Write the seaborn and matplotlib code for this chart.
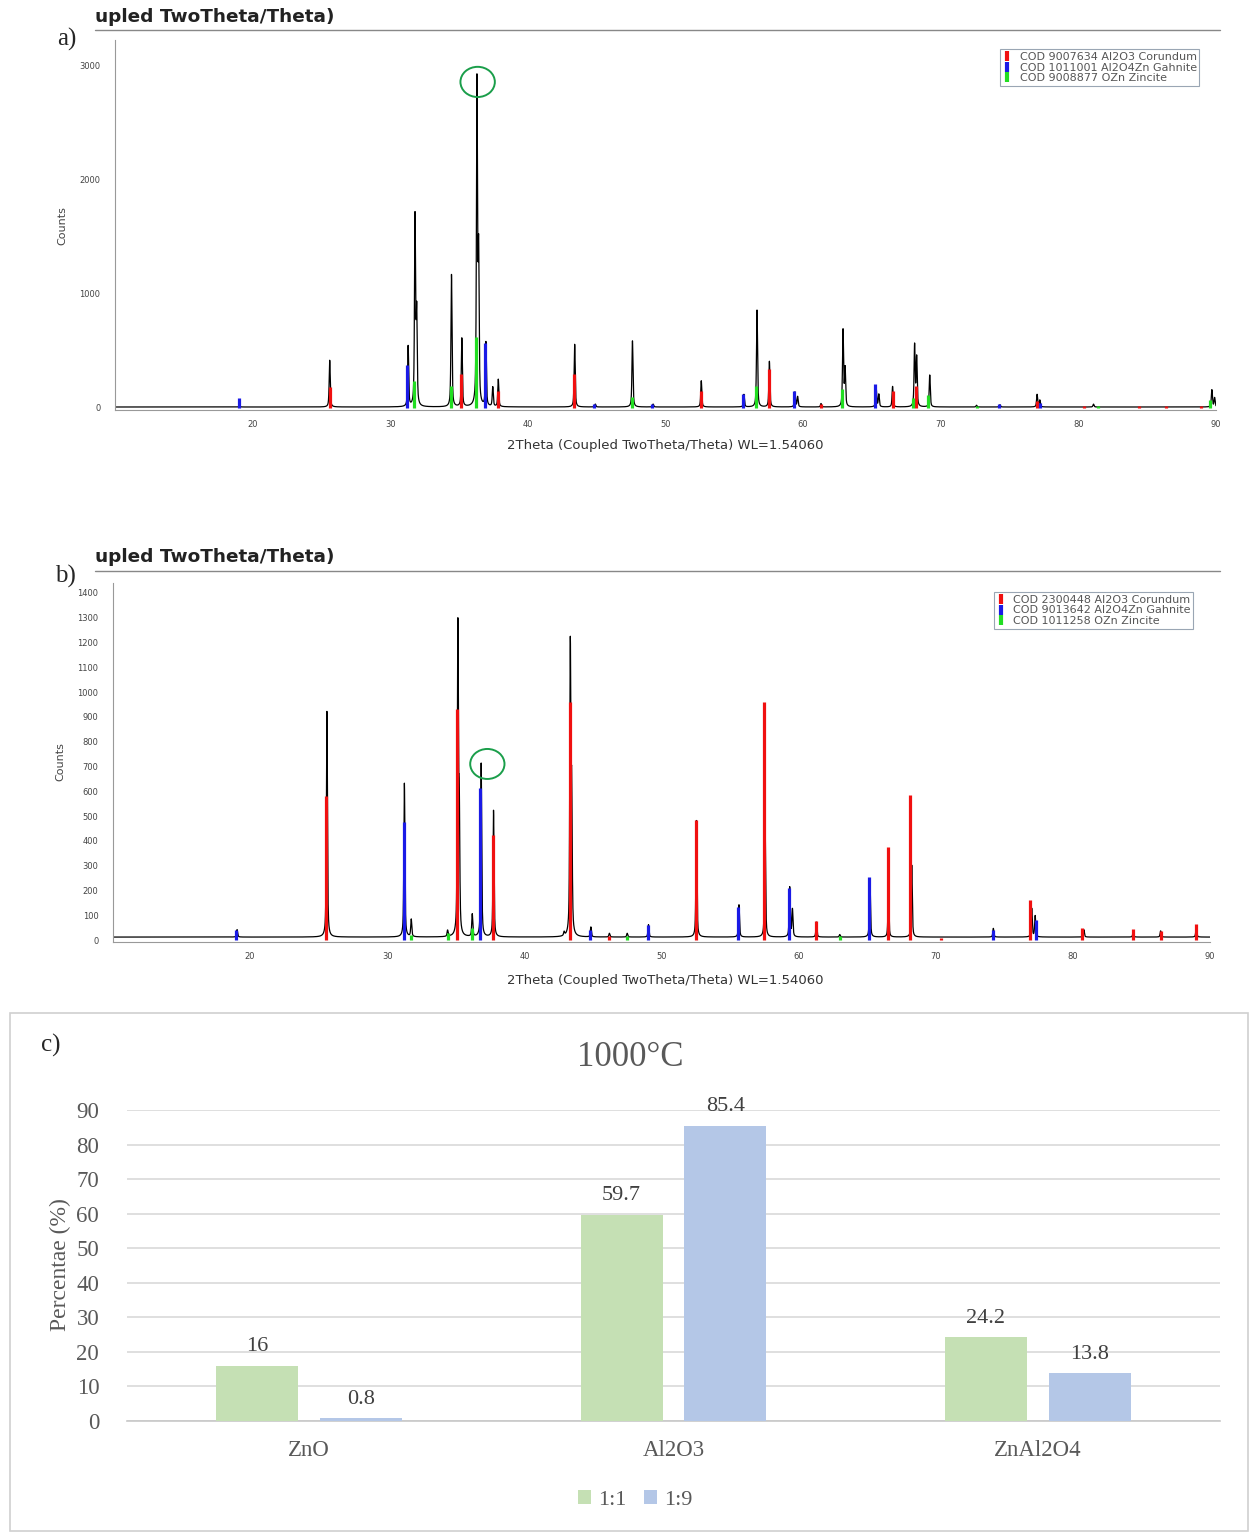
import numpy as np
import pandas as pd
import matplotlib
matplotlib.use("Agg")
import matplotlib.pyplot as plt
from matplotlib.lines import Line2D
from matplotlib.patches import Ellipse, Rectangle
from matplotlib.ticker import MultipleLocator
import seaborn as sns

sns.set_theme(style="white")
plt.rcParams['font.family'] = ['DejaVu Sans']

# ====================== data: XRD a) ======================
a_peak_pos = [19.05, 25.6, 31.3, 31.8, 31.92, 34.45, 35.2, 36.3, 36.42, 36.95, 37.45, 37.85,
              43.4, 44.9, 47.6, 49.1, 52.6, 55.7, 56.65, 57.55, 59.4, 59.6, 61.3, 62.9, 63.05,
              65.3, 65.5, 66.5, 68.1, 68.25, 69.2, 72.6, 74.3, 77.0, 77.2, 81.1, 89.7, 89.9]
a_peak_hgt = [15, 410, 530, 1650, 800, 1160, 600, 2820, 1300, 560, 170, 240,
              550, 25, 580, 25, 230, 110, 850, 400, 130, 90, 30, 670, 330,
              180, 110, 180, 540, 430, 280, 15, 20, 110, 60, 25, 150, 80]
a_red_pos = [25.6, 35.15, 37.8, 43.35, 52.55, 57.5, 61.3, 66.5, 68.2, 77.0, 80.4, 84.4, 86.4, 88.9]
a_red_hgt = [180, 300, 150, 300, 150, 340, 30, 150, 190, 60, 20, 20, 20, 20]
a_blue_pos = [19.0, 31.25, 36.85, 44.8, 49.0, 55.65, 59.35, 65.2, 74.2, 77.2]
a_blue_hgt = [90, 380, 570, 30, 30, 120, 150, 210, 30, 40]
a_green_pos = [31.75, 34.4, 36.25, 47.55, 56.6, 62.85, 67.95, 69.1, 72.6, 81.4, 89.6]
a_green_hgt = [240, 190, 620, 100, 190, 170, 90, 110, 20, 20, 70]
a_legend = ["COD 9007634 Al2O3 Corundum", "COD 1011001 Al2O4Zn Gahnite", "COD 9008877 OZn Zincite"]

# ====================== data: XRD b) ======================
b_peak_pos = [19.05, 25.6, 31.25, 31.75, 34.4, 35.15, 35.25, 36.2, 36.85, 37.75, 42.9, 43.35,
              43.45, 44.85, 46.2, 47.5, 49.05, 52.55, 55.65, 57.55, 59.35, 59.55, 61.3, 63.0,
              65.2, 66.55, 68.25, 74.2, 77.0, 77.25, 80.8, 84.4, 86.4, 89.0]
b_peak_hgt = [30, 910, 620, 70, 25, 1230, 500, 90, 700, 510, 15, 1150,
              550, 40, 15, 15, 50, 470, 130, 490, 200, 110, 60, 10,
              235, 175, 290, 35, 115, 85, 30, 20, 25, 40]
b_red_pos = [25.55, 35.1, 37.7, 43.3, 46.15, 52.5, 57.45, 61.25, 66.5, 68.15, 70.4, 76.9,
             80.7, 84.4, 86.4, 88.95]
b_red_hgt = [580, 930, 425, 960, 15, 485, 960, 75, 375, 585, 10, 160, 50, 45, 35, 65]
b_blue_pos = [19.0, 31.2, 36.8, 44.8, 49.0, 55.6, 59.3, 65.15, 74.15, 77.3]
b_blue_hgt = [40, 475, 615, 40, 60, 135, 210, 255, 40, 80]
b_green_pos = [31.7, 34.4, 36.2, 47.45, 63.0]
b_green_hgt = [20, 30, 50, 15, 15]
b_legend = ["COD 2300448 Al2O3 Corundum", "COD 9013642 Al2O4Zn Gahnite", "COD 1011258 OZn Zincite"]

# ====================== data: bar chart c) ======================
phases = ["ZnO", "Al2O3", "ZnAl2O4"]
ratios = ["1:1", "1:9"]
pct_1_1 = [16, 59.7, 24.2]
pct_1_9 = [0.8, 85.4, 13.8]

RED, BLUE, GREEN = "#f01010", "#1a1ae6", "#22dd22"
SERIF = "Liberation Serif"


def pattern(pos, hgt, base, fwhm=0.09):
    """diffractogram built from the peak list (pseudo-Voigt peaks)"""
    x = np.arange(10, 90.005, 0.01)
    y = np.full_like(x, base, dtype=float)
    g = fwhm / 2
    for p, h in zip(pos, hgt):
        d = (x - p) / g
        y += h * (0.6 / (1 + d ** 2) + 0.4 * np.exp(-np.log(2) * d ** 2))
    return pd.DataFrame({"two_theta": x, "counts": y})


def draw_xrd(ax, df, sticks, ylim, major, minor, legend_labels, circle):
    sns.lineplot(data=df, x="two_theta", y="counts", ax=ax, color="black",
                 lw=0.9, estimator=None)
    for pos, hgt, col in sticks:
        ax.vlines(pos, 0, hgt, colors=col, lw=2.3, zorder=3)
    ax.set_xlim(10, 90)
    ax.set_ylim(*ylim)
    ax.xaxis.set_major_locator(MultipleLocator(10))
    ax.xaxis.set_minor_locator(MultipleLocator(2))
    ax.yaxis.set_major_locator(MultipleLocator(major))
    ax.yaxis.set_minor_locator(MultipleLocator(minor))
    ax.set_xticks([20, 30, 40, 50, 60, 70, 80, 90])
    ax.tick_params(which="both", direction="out", colors="#777", labelcolor="#444",
                   labelsize=6, width=0.7)
    ax.tick_params(which="major", length=5)
    ax.tick_params(which="minor", length=2.5)
    ax.tick_params(axis="y", which="major", length=7)
    ax.tick_params(axis="x", pad=2)
    for s in ["top", "right"]:
        ax.spines[s].set_visible(False)
    for s in ["left", "bottom"]:
        ax.spines[s].set_color("#999")
        ax.spines[s].set_linewidth(0.8)
    ax.set_xlabel("")
    ax.set_ylabel("")
    handles = [Line2D([], [], marker="|", markersize=7, mew=3, color=c, ls="None")
               for c in (RED, BLUE, GREEN)]
    leg = ax.legend(handles, legend_labels, loc="upper right", bbox_to_anchor=(0.99, 0.99),
                    fontsize=8, labelspacing=0.05, borderpad=0.25, handlelength=0.8,
                    handletextpad=0.7, frameon=True, fancybox=False, framealpha=1)
    leg.get_frame().set_edgecolor("#9aa6b4")
    leg.get_frame().set_linewidth(0.8)
    for t in leg.get_texts():
        t.set_color("#555")
    cx, cy, w, h = circle
    ax.add_patch(Ellipse((cx, cy), w, h, fill=False, ec="#1a9e4a", lw=1.4,
                         clip_on=False, zorder=5))


fig = plt.figure(figsize=(12.5, 15.32), dpi=100)

# ---------------------- a) ----------------------
ax_a = fig.add_axes([0.092, 0.7324, 0.8808, 0.2415])
df_a = pattern(a_peak_pos, a_peak_hgt, 8)
sticks_a = [(a_red_pos, a_red_hgt, RED), (a_blue_pos, a_blue_hgt, BLUE),
            (a_green_pos, a_green_hgt, GREEN)]
draw_xrd(ax_a, df_a, sticks_a, (-18, 3228), 1000, 100, a_legend, (36.35, 2860, 2.5, 265))

# ---------------------- b) ----------------------
ax_b = fig.add_axes([0.0904, 0.3851, 0.8776, 0.2344])
df_b = pattern(b_peak_pos, b_peak_hgt, 12)
sticks_b = [(b_red_pos, b_red_hgt, RED), (b_blue_pos, b_blue_hgt, BLUE),
            (b_green_pos, b_green_hgt, GREEN)]
draw_xrd(ax_b, df_b, sticks_b, (-8, 1440), 100, 20, b_legend, (37.3, 710, 2.5, 121))

# header strips, axis titles, panel letters
for ty, ly in [(0.9889, 0.9804), (0.6364, 0.6273)]:
    fig.text(0.076, ty, "upled TwoTheta/Theta)", fontsize=13.3, fontweight="bold",
             color="#222", va="center", ha="left")
    fig.add_artist(Line2D([0.076, 0.976], [ly, ly], color="#888", lw=1))
for x, y in [(0.0496, 0.853), (0.048, 0.5026)]:
    fig.text(x, y, "Counts", rotation=90, fontsize=8, color="#444", ha="center", va="center")
for y in [0.709, 0.3603]:
    fig.text(0.532, y, "2Theta (Coupled TwoTheta/Theta) WL=1.54060", fontsize=9.5,
             color="#333", ha="center", va="center")
fig.text(0.046, 0.974, "a)", family=SERIF, fontsize=18, ha="left", va="center")
fig.text(0.044, 0.624, "b)", family=SERIF, fontsize=18, ha="left", va="center")

# ---------------------- c) ----------------------
fig.add_artist(Rectangle((10 / 1250, 0.0008), 1238 / 1250, 0.3380, transform=fig.transFigure,
                         fill=False, ec="#d0d0d0", lw=1.2))
ax_c = fig.add_axes([0.1016, 0.07245, 0.8744, 0.2030])
df_c = pd.DataFrame({"phase": phases * 2,
                     "ratio": [ratios[0]] * 3 + [ratios[1]] * 3,
                     "pct": pct_1_1 + pct_1_9})
palette = {"1:1": "#C5E0B4", "1:9": "#B4C7E7"}
sns.barplot(data=df_c, x="phase", y="pct", hue="ratio", palette=palette, width=0.57,
            gap=0.21, saturation=1, legend=False, ax=ax_c, zorder=3, linewidth=0,
            edgecolor="none")
for cont in ax_c.containers:
    ax_c.bar_label(cont, fmt="{:g}", padding=7, fontsize=16, color="#404040", family=SERIF)
ax_c.set_xlim(-0.5, 2.5)
ax_c.set_ylim(0, 90)
ax_c.set_yticks(range(0, 91, 10))
ax_c.grid(axis="y", color="#d9d9d9", lw=1.2, zorder=0)
for s in ["top", "right", "left"]:
    ax_c.spines[s].set_visible(False)
ax_c.spines["bottom"].set_color("#c8c8c8")
ax_c.spines["bottom"].set_linewidth(1.2)
ax_c.tick_params(length=0, labelsize=16.5, labelcolor="#595959")
ax_c.tick_params(axis="y", pad=20)
ax_c.tick_params(axis="x", pad=14)
for lab in ax_c.get_xticklabels() + ax_c.get_yticklabels():
    lab.set_family(SERIF)
ax_c.set_xlabel("")
ax_c.set_ylabel("")
fig.text(0.048, 0.1743, "Percentae (%)", rotation=90, family=SERIF, fontsize=17,
         color="#595959", ha="center", va="center")
fig.text(0.504, 0.310, "1000°C", family=SERIF, fontsize=25, color="#595959",
         ha="center", va="center")
fig.text(0.033, 0.3179, "c)", family=SERIF, fontsize=18, ha="left", va="center")
handles = [Rectangle((0, 0), 1, 1, fc=palette[r], ec="none") for r in ratios]
fig.legend(handles, ratios, loc="center", bbox_to_anchor=(0.508, 0.0209), ncol=2,
           frameon=False, prop={"family": SERIF, "size": 16}, handlelength=0.6,
           handleheight=0.6, handletextpad=0.3, columnspacing=0.8, labelcolor="#595959")

fig.savefig("out.png", dpi=100)
